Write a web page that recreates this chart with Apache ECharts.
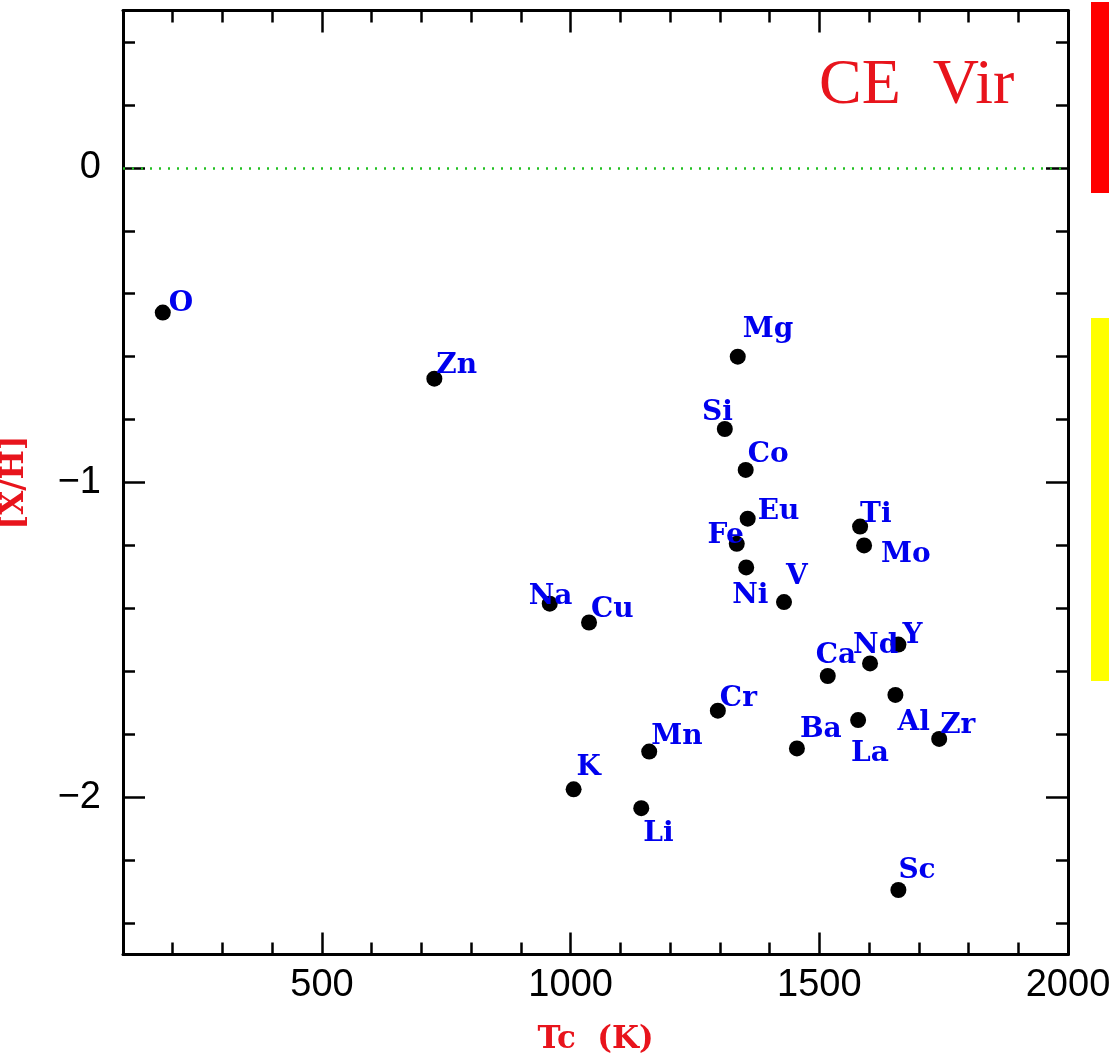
<!DOCTYPE html>
<html>
<head>
<meta charset="utf-8">
<script src="https://cdn.jsdelivr.net/npm/echarts@6/dist/echarts.min.js"></script>
<style>
  html, body { margin: 0; padding: 0; background: #fff; }
  #main { width: 1109px; height: 1058px; }
</style>
</head>
<body>
<div id="main"></div>
<script>
  // element, condensation temperature Tc (K), abundance [X/H]
  var elements = ['O', 'Zn', 'Mg', 'Si', 'Co', 'Eu', 'Fe', 'Ni', 'V', 'Ti', 'Mo', 'Na', 'Cu',
                  'Cr', 'Mn', 'K', 'Li', 'Ca', 'Nd', 'Y', 'Al', 'La', 'Ba', 'Zr', 'Sc'];
  var tcValues = [180, 726, 1336, 1310, 1352, 1356, 1334, 1353, 1429, 1582, 1590, 958, 1037,
                  1296, 1158, 1006, 1142, 1517, 1602, 1659, 1653, 1578, 1455, 1741, 1659];
  var xhValues = [-0.46, -0.67, -0.60, -0.83, -0.96, -1.115, -1.195, -1.27, -1.38, -1.14, -1.20, -1.385, -1.445,
                  -1.725, -1.855, -1.975, -2.035, -1.615, -1.575, -1.515, -1.675, -1.755, -1.845, -1.815, -2.295];

  // tick labels
  var xMajorTicks = [500, 1000, 1500, 2000];
  var yMajorTicks = [-2, -1, 0];

  // label placement next to each dot: [dx, dy to baseline, align]
  var labelPlace = [
    [6, -2, 'left'], [2, -6, 'left'], [5, -20, 'left'], [8, -9, 'right'], [2, -8, 'left'],
    [10, 0, 'left'], [7, -1, 'right'], [-14, 35, 'left'], [2, -18, 'left'], [0, -5, 'left'],
    [17, 16, 'left'], [-21, 0, 'left'], [2, -6, 'left'], [2, -5, 'left'], [2, -8, 'left'],
    [3, -15, 'left'], [2, 33, 'left'], [-12, -13, 'left'], [-17, -11, 'left'], [4, -2, 'left'],
    [2, 35, 'left'], [-7, 41, 'left'], [3, -12, 'left'], [1, -6, 'left'], [0, -12, 'left']
  ];

  var xMinorTicks = [];
  for (var v = 200; v < 2000; v += 100) {
    if (v % 500 !== 0) xMinorTicks.push(v);
  }
  var yMinorTicks = [];
  for (var k = -12; k <= 2; k++) {
    if (k % 5 !== 0) yMinorTicks.push(Math.round(k * 0.2 * 10) / 10);
  }

  var points = [];
  for (var i = 0; i < elements.length; i++) {
    points.push({
      name: elements[i],
      value: [tcValues[i], xhValues[i]],
      label: {
        offset: [labelPlace[i][0], labelPlace[i][1] - 7],
        align: labelPlace[i][2]
      }
    });
  }

  var blk = '#000';
  function mainAxis(pos, isX, showLabel, majors, minV, maxV) {
    return {
      type: 'value',
      position: pos,
      min: minV,
      max: maxV,
      axisLine: { show: true, onZero: false, lineStyle: { color: blk, width: 3 } },
      axisTick: { show: true, inside: true, length: 22, customValues: majors,
                  lineStyle: { color: blk, width: 2.5 } },
      axisLabel: {
        show: showLabel,
        customValues: majors,
        color: blk,
        fontFamily: 'Liberation Sans',
        fontSize: 38,
        margin: isX ? 12 : 22,
        showMinLabel: true,
        showMaxLabel: true,
        formatter: function (val) {
          return val < 0 ? '\u2212' + Math.abs(val) : String(val);
        }
      },
      splitLine: { show: false }
    };
  }
  function minorAxis(pos, minors, minV, maxV) {
    return {
      type: 'value',
      position: pos,
      min: minV,
      max: maxV,
      axisLine: { show: false, onZero: false },
      axisTick: { show: true, inside: true, length: 12, customValues: minors,
                  lineStyle: { color: blk, width: 2.5 } },
      axisLabel: { show: false, customValues: minors },
      splitLine: { show: false }
    };
  }

  var xBottom = mainAxis('bottom', true, true, xMajorTicks, 100, 2000);
  xBottom.name = 'Tc  (K)';
  xBottom.nameLocation = 'middle';
  xBottom.nameGap = 70;
  xBottom.nameTextStyle = { color: '#e8141c', fontFamily: 'DejaVu Serif', fontWeight: 'bold', fontSize: 31 };

  var yLeft = mainAxis('left', false, true, yMajorTicks, -2.5, 0.5);
  yLeft.name = '[X/H]';
  yLeft.nameLocation = 'middle';
  yLeft.nameGap = 93;
  yLeft.nameRotate = 90;
  yLeft.nameTextStyle = { color: '#e8141c', fontFamily: 'DejaVu Serif', fontWeight: 'bold', fontSize: 31 };

  var chart = echarts.init(document.getElementById('main'));
  chart.setOption({
    backgroundColor: '#fff',
    animation: false,
    title: {
      text: 'CE  Vir',
      left: 819,
      top: 54,
      padding: 0,
      textStyle: { color: '#e8141c', fontFamily: 'Liberation Serif', fontWeight: 'normal', fontSize: 64 }
    },
    grid: { left: 123, right: 41, top: 10.5, bottom: 103.5, containLabel: false, outerBoundsMode: 'none' },
    xAxis: [
      xBottom,
      minorAxis('bottom', xMinorTicks, 100, 2000),
      mainAxis('top', true, false, xMajorTicks, 100, 2000),
      minorAxis('top', xMinorTicks, 100, 2000)
    ],
    yAxis: [
      yLeft,
      minorAxis('left', yMinorTicks, -2.5, 0.5),
      mainAxis('right', false, false, yMajorTicks, -2.5, 0.5),
      minorAxis('right', yMinorTicks, -2.5, 0.5)
    ],
    graphic: [
      { type: 'rect', left: 1091, top: 2, shape: { width: 18, height: 191 }, style: { fill: '#ff0000' } },
      { type: 'rect', left: 1091, top: 318, shape: { width: 18, height: 363 }, style: { fill: '#ffff00' } }
    ],
    series: [{
      type: 'scatter',
      xAxisIndex: 0,
      yAxisIndex: 0,
      symbol: 'circle',
      symbolSize: 16,
      itemStyle: { color: '#000', opacity: 1 },
      data: points,
      label: {
        show: true,
        position: 'inside',
        formatter: '{b}',
        color: '#0000ee',
        fontFamily: 'DejaVu Serif',
        fontWeight: 'bold',
        fontSize: 28,
        lineHeight: 28,
        verticalAlign: 'middle'
      },
      markLine: {
        silent: true,
        symbol: 'none',
        label: { show: false },
        lineStyle: { color: '#22c022', width: 2.5, type: [2, 7], opacity: 1 },
        data: [{ yAxis: 0 }]
      },
      z: 3
    }]
  });
</script>
</body>
</html>
